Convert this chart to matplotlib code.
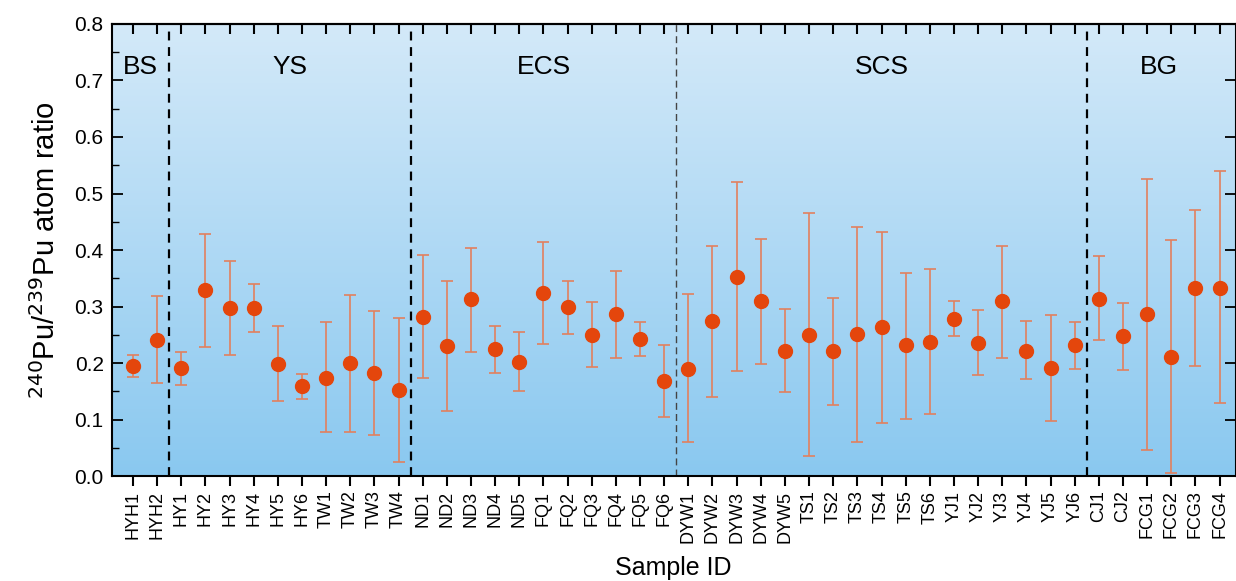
import numpy as np
import matplotlib
import matplotlib.pyplot as plt

matplotlib.use('Agg')

plt.rcParams['font.family'] = ['Liberation Sans', 'DejaVu Sans']

# sample names, ratio, upper and lower ends of the error bars
samples = ['HYH1', 'HYH2',
           'HY1', 'HY2', 'HY3', 'HY4', 'HY5', 'HY6', 'TW1', 'TW2', 'TW3', 'TW4',
           'ND1', 'ND2', 'ND3', 'ND4', 'ND5', 'FQ1', 'FQ2', 'FQ3', 'FQ4', 'FQ5', 'FQ6',
           'DYW1', 'DYW2', 'DYW3', 'DYW4', 'DYW5', 'TS1', 'TS2', 'TS3', 'TS4', 'TS5', 'TS6',
           'YJ1', 'YJ2', 'YJ3', 'YJ4', 'YJ5', 'YJ6',
           'CJ1', 'CJ2', 'FCG1', 'FCG2', 'FCG3', 'FCG4']
ratio = [0.195, 0.241,
         0.191, 0.329, 0.297, 0.297, 0.199, 0.159, 0.174, 0.200, 0.182, 0.152,
         0.282, 0.230, 0.313, 0.224, 0.202, 0.324, 0.299, 0.250, 0.286, 0.242, 0.168,
         0.190, 0.274, 0.353, 0.309, 0.222, 0.250, 0.222, 0.251, 0.263, 0.231, 0.238,
         0.278, 0.236, 0.309, 0.222, 0.191, 0.231,
         0.314, 0.247, 0.287, 0.211, 0.333, 0.333]
upper = [0.215, 0.319,
         0.219, 0.428, 0.381, 0.339, 0.266, 0.180, 0.273, 0.321, 0.292, 0.280,
         0.391, 0.345, 0.403, 0.265, 0.254, 0.414, 0.346, 0.308, 0.363, 0.272, 0.231,
         0.322, 0.407, 0.520, 0.420, 0.295, 0.465, 0.315, 0.441, 0.432, 0.360, 0.366,
         0.310, 0.294, 0.407, 0.274, 0.285, 0.273,
         0.389, 0.306, 0.526, 0.417, 0.471, 0.539]
lower = [0.175, 0.164,
         0.161, 0.229, 0.215, 0.255, 0.133, 0.137, 0.078, 0.078, 0.072, 0.025,
         0.173, 0.115, 0.219, 0.182, 0.150, 0.234, 0.251, 0.193, 0.209, 0.212, 0.105,
         0.060, 0.139, 0.186, 0.198, 0.149, 0.035, 0.126, 0.060, 0.093, 0.101, 0.109,
         0.247, 0.178, 0.209, 0.171, 0.097, 0.189,
         0.240, 0.187, 0.046, 0.006, 0.195, 0.129]

regions = ['BS', 'YS', 'ECS', 'SCS', 'BG']
region_sizes = [2, 10, 11, 17, 6]

x = np.arange(len(samples))
ratio = np.array(ratio)
yerr = [ratio - np.array(lower), np.array(upper) - ratio]

fig = plt.figure(figsize=(12.36, 5.81), dpi=100)
ax = fig.add_axes([0.0906, 0.1807, 0.909, 0.778])

xmin, xmax = -0.87, 45.66
ymin, ymax = 0.0, 0.8

# Vertical blue gradient background
grad = np.linspace(0, 1, 256).reshape(-1, 1)
top_col = np.array([0.83, 0.915, 0.975])
bot_col = np.array([0.54, 0.785, 0.94])
img = bot_col + (top_col - bot_col) * grad
ax.imshow(img[:, None, :].repeat(2, axis=1), extent=[xmin, xmax, ymin, ymax],
          origin='lower', aspect='auto', zorder=0)

ax.errorbar(x, ratio, yerr=yerr, fmt='none', ecolor='#e2805e', elinewidth=1.2,
            capsize=4, capthick=1.2, zorder=2)
ax.plot(x, ratio, 'o', color='#e4460c', markersize=10, zorder=3)

# region separators and labels
start = 0
for i, (name, n) in enumerate(zip(regions, region_sizes)):
    end = start + n
    if i < len(regions) - 1:
        if name == 'ECS':
            ax.axvline(end - 0.5, color='#444444', linestyle=(0, (5, 3)), linewidth=1.0, zorder=1)
        else:
            ax.axvline(end - 0.5, color='black', linestyle=(0, (4, 3)), linewidth=1.6, zorder=1)
    cx = (start + end - 1) / 2
    if name == 'BS':
        cx = 0.3
    ax.text(cx, 0.724, name, ha='center', va='center', fontsize=19)
    start = end

ax.set_xlim(xmin, xmax)
ax.set_ylim(ymin, ymax)
ax.set_xticks(x)
ax.set_xticklabels(samples, rotation=90, fontsize=13)
ax.set_yticks(np.arange(0, 0.81, 0.1))
ax.set_yticklabels(['%.1f' % v for v in np.arange(0, 0.81, 0.1)], fontsize=15)
ax.set_yticks(np.arange(0.05, 0.8, 0.1), minor=True)

ax.tick_params(axis='x', which='major', direction='out', length=7, width=1.5, top=False)
ax.tick_params(axis='y', which='major', direction='in', length=8, width=1.3, right=True, pad=6)
ax.tick_params(axis='y', which='minor', direction='in', length=5, width=1.0, right=False)

# inward ticks along the top edge
sec = ax.secondary_xaxis('top')
sec.set_xticks(x)
sec.set_xticklabels([])
sec.tick_params(direction='in', length=7, width=1.5)
sec.spines['top'].set_linewidth(1.5)

for sp in ax.spines.values():
    sp.set_linewidth(1.5)

ax.set_xlabel('Sample ID', fontsize=18, labelpad=10)
ax.set_ylabel(r'$^{240}$Pu/$^{239}$Pu atom ratio', fontsize=21, labelpad=10)

fig.savefig('out.png', dpi=100)
